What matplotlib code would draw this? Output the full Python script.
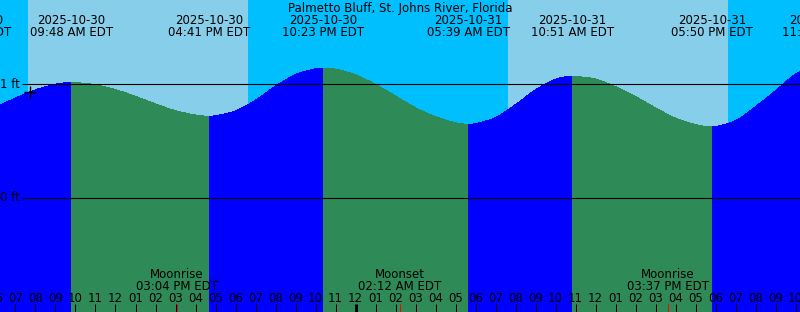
from datetime import datetime

import matplotlib
matplotlib.use("Agg")
import matplotlib.pyplot as plt
from matplotlib.patches import PathPatch
from matplotlib.path import Path
import numpy as np

TITLE = "Palmetto Bluff, St. Johns River, Florida"
START = datetime(2025, 10, 30)

# high / low tides (first and last sit just outside the picture)
tide_times = [
    "2025-10-30 04:41", "2025-10-30 09:48", "2025-10-30 16:41", "2025-10-30 22:23",
    "2025-10-31 05:39", "2025-10-31 10:51", "2025-10-31 17:50", "2025-10-31 23:23",
]
tide_heights = [0.77, 1.018, 0.719, 1.144, 0.648, 1.073, 0.625, 1.17]
tide_kinds = ["low", "high", "low", "high", "low", "high", "low", "high"]

curve_hours = list(range(6, 48))
curve_ft = [
    0.805, 0.880, 0.953, 1.002, 1.017, 0.998, 0.955, 0.895, 0.828, 0.768,
    0.730, 0.724, 0.766, 0.862, 0.985, 1.088, 1.139, 1.135, 1.086, 1.001,
    0.898, 0.794, 0.716, 0.662, 0.654, 0.707, 0.822, 0.952, 1.045, 1.072,
    1.048, 0.980, 0.894, 0.793, 0.702, 0.645, 0.626, 0.680, 0.804, 0.945,
    1.091, 1.163,
]

sunrise_times = ["2025-10-30 07:37", "2025-10-31 07:37"]
sunset_times = ["2025-10-30 18:37", "2025-10-31 18:37"]

moon_events = ["Moonrise", "Moonset", "Moonrise"]
moon_times = ["2025-10-30 15:04", "2025-10-31 02:12", "2025-10-31 15:37"]

now_time = "2025-10-30 07:43"
now_ft = 0.936

DAY = "#87ceeb"
NIGHT = "#00bfff"
RISING = "#0000ff"
FALLING = "#2e8b57"

W, H = 800, 312
PX_PER_HOUR = 20
X0 = 6.225            # hours at the left edge
FT_TOP = 197.5 / 113  # 113 px per foot, 0 ft at row 197
FT_BOTTOM = (197.5 - H) / 113


def hours(stamp):
    return (datetime.strptime(stamp, "%Y-%m-%d %H:%M") - START).total_seconds() / 3600


def px_x(p):
    return X0 + p / PX_PER_HOUR


def px_y(p):
    # pixel row from the top -> axes fraction
    return 1 - p / H


def water_path(t, h):
    # smooth hermite path through the read points, closed down to the bottom
    n = len(t)
    slopes = np.zeros(n)  # flat at the high / low ends
    for k in range(1, n - 1):
        slopes[k] = (h[k + 1] - h[k - 1]) / (t[k + 1] - t[k - 1])
    verts = [(t[0], FT_BOTTOM), (t[0], h[0])]
    codes = [Path.MOVETO, Path.LINETO]
    for k in range(n - 1):
        dt = (t[k + 1] - t[k]) / 3
        verts += [(t[k] + dt, h[k] + slopes[k] * dt),
                  (t[k + 1] - dt, h[k + 1] - slopes[k + 1] * dt),
                  (t[k + 1], h[k + 1])]
        codes += [Path.CURVE4] * 3
    verts += [(t[-1], FT_BOTTOM), (t[0], FT_BOTTOM)]
    codes += [Path.LINETO, Path.CLOSEPOLY]
    return Path(verts, codes)


fig = plt.figure(figsize=(W / 100, H / 100), dpi=100)
ax = fig.add_axes([0, 0, 1, 1])
ax.set_xlim(X0, X0 + W / PX_PER_HOUR)
ax.set_ylim(FT_BOTTOM, FT_TOP)
ax.axis("off")
ax.add_patch(plt.Rectangle((0, 0), 1, 1, transform=ax.transAxes, color=NIGHT, zorder=0))

for rise, down in zip(sunrise_times, sunset_times):
    ax.axvspan(hours(rise), hours(down), color=DAY, lw=0, antialiased=False, zorder=0.5)

# water, blue while rising and green while falling
ev_h = [hours(s) for s in tide_times]
pts = sorted(zip(curve_hours + ev_h, curve_ft + tide_heights))
t_all = np.array([p[0] for p in pts])
h_all = np.array([p[1] for p in pts])
for i in range(len(ev_h) - 1):
    m = (t_all >= ev_h[i]) & (t_all <= ev_h[i + 1])
    color = RISING if tide_kinds[i] == "low" else FALLING
    patch = PathPatch(water_path(t_all[m], h_all[m]), facecolor=color,
                      edgecolor="none", lw=0, antialiased=False, zorder=1)
    ax.add_patch(patch)

# datum lines
ax.hlines([0, 1], px_x(22), px_x(W), color="black", lw=0.8, zorder=2)
xt = ax.get_xaxis_transform()
font = dict(family="DejaVu Sans", fontsize=8.5, color="black", zorder=3)
ax.text(px_x(20), px_y(88.3), "1 ft", ha="right", va="baseline", transform=xt, **font)
ax.text(px_x(20), px_y(201.3), "0 ft", ha="right", va="baseline", transform=xt, **font)

ax.plot([hours(now_time)], [now_ft], marker="+", ms=8, mew=1, color="black", zorder=3)

ax.text(px_x(W / 2), px_y(12), TITLE, ha="center", va="baseline", transform=xt, **font)

for stamp in tide_times:
    when = datetime.strptime(stamp, "%Y-%m-%d %H:%M")
    x = hours(stamp)
    ax.text(x, px_y(24.3), when.strftime("%Y-%m-%d"), ha="center", va="baseline",
            transform=xt, **font)
    ax.text(x, px_y(36), when.strftime("%I:%M %p EDT"), ha="center", va="baseline",
            transform=xt, **font)

for name, stamp in zip(moon_events, moon_times):
    when = datetime.strptime(stamp, "%Y-%m-%d %H:%M")
    x = hours(stamp)
    ax.text(x, px_y(278.3), name, ha="center", va="baseline", transform=xt, **font)
    ax.text(x, px_y(290), when.strftime("%I:%M %p EDT"), ha="center", va="baseline",
            transform=xt, **font)

# hour ticks along the bottom
tick_top = 8 / H
for hr in range(6, 48):
    thick = hr % 24 == 0
    ax.vlines(hr, 0, tick_top, color="black", lw=2.16 if thick else 0.72,
              transform=xt, zorder=3)
    label = datetime(2025, 10, 30, hr % 24).strftime("%I")
    ax.text(hr, px_y(301.7), label, ha="center", va="baseline", transform=xt, **font)

ax.vlines([hours(s) for s in moon_times], 0, tick_top, color="red", lw=0.72,
          transform=xt, zorder=4)

fig.savefig("out.png", dpi=100)
